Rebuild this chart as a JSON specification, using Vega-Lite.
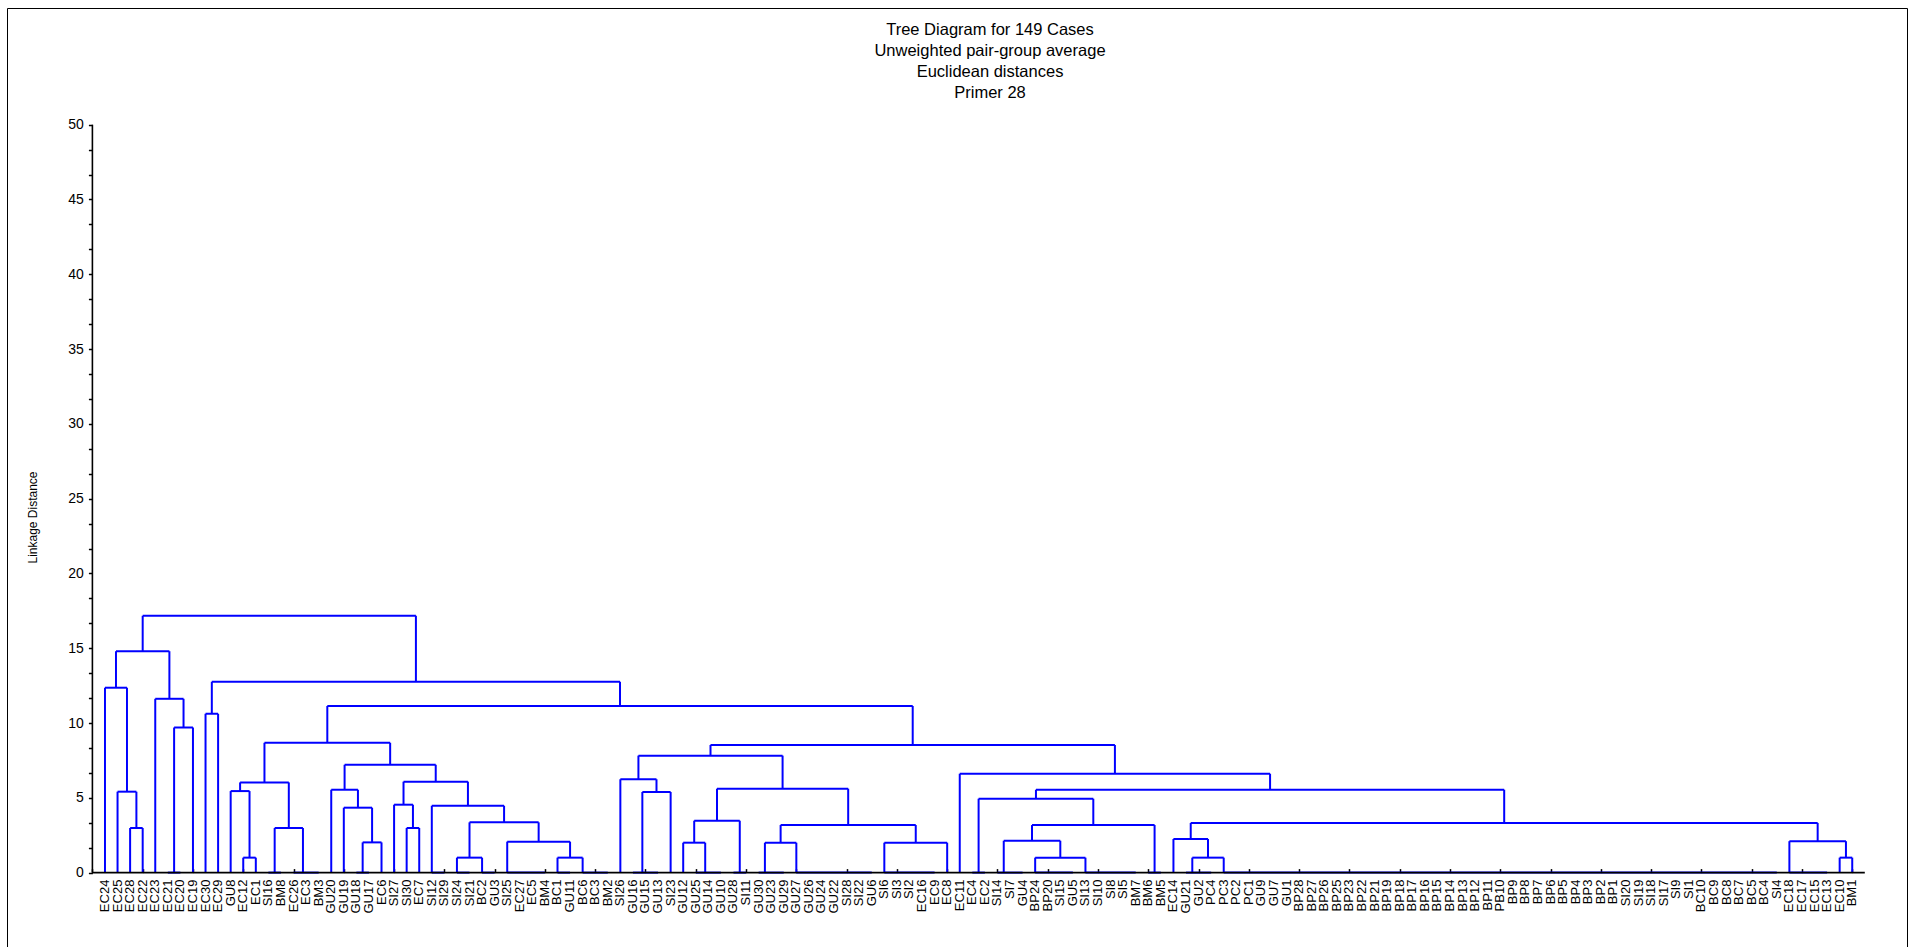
{
  "$schema": "https://vega.github.io/schema/vega-lite/v6.json",
  "autosize": {"type": "none"},
  "padding": {"left": 7, "top": 8, "right": 9, "bottom": -4},
  "width": 1900,
  "height": 943,
  "background": "white",
  "config": {
    "view": {"stroke": "black", "strokeWidth": 1},
    "font": "Liberation Sans",
    "axis": {"labelOverlap": false, "labelFlush": false, "grid": false}
  },
  "resolve": {"axis": {"y": "independent"}},
  "title": {
    "text": ["Tree Diagram for 149 Cases", "Unweighted pair-group average", "Euclidean distances", "Primer 28"],
    "font": "Liberation Sans",
    "fontSize": 16.5,
    "fontWeight": "normal",
    "color": "black",
    "lineHeight": 21,
    "anchor": "middle",
    "frame": "group",
    "offset": -93.5,
    "dx": 33
  },
  "datasets": {
    "links": [
      {"x1": 6, "x2": 7, "h": 0, "h1": 0, "h2": 0},
      {"x1": 14, "x2": 15, "h": 0, "h1": 0, "h2": 0},
      {"x1": 16, "x2": 18, "h": 0, "h1": 0, "h2": 0},
      {"x1": 21, "x2": 22, "h": 0, "h1": 0, "h2": 0},
      {"x1": 27, "x2": 28, "h": 0, "h1": 0, "h2": 0},
      {"x1": 29, "x2": 30, "h": 0, "h1": 0, "h2": 0},
      {"x1": 31, "x2": 32, "h": 0, "h1": 0, "h2": 0},
      {"x1": 33, "x2": 36, "h": 0, "h1": 0, "h2": 0},
      {"x1": 37, "x2": 38, "h": 0, "h1": 0, "h2": 0},
      {"x1": 39, "x2": 41, "h": 0, "h1": 0, "h2": 0},
      {"x1": 43, "x2": 45, "h": 0, "h1": 0, "h2": 0},
      {"x1": 48, "x2": 50, "h": 0, "h1": 0, "h2": 0},
      {"x1": 51, "x2": 52, "h": 0, "h1": 0, "h2": 0},
      {"x1": 53, "x2": 55, "h": 0, "h1": 0, "h2": 0},
      {"x1": 56, "x2": 62, "h": 0, "h1": 0, "h2": 0},
      {"x1": 63, "x2": 67, "h": 0, "h1": 0, "h2": 0},
      {"x1": 70, "x2": 71, "h": 0, "h1": 0, "h2": 0},
      {"x1": 72, "x2": 74, "h": 0, "h1": 0, "h2": 0},
      {"x1": 75, "x2": 78, "h": 0, "h1": 0, "h2": 0},
      {"x1": 79, "x2": 83, "h": 0, "h1": 0, "h2": 0},
      {"x1": 84, "x2": 85, "h": 0, "h1": 0, "h2": 0},
      {"x1": 87, "x2": 89, "h": 0, "h1": 0, "h2": 0},
      {"x1": 90, "x2": 134, "h": 0, "h1": 0, "h2": 0},
      {"x1": 135, "x2": 138, "h": 0, "h1": 0, "h2": 0},
      {"x1": 3, "x2": 4, "h": 2.98, "h1": 0, "h2": 0},
      {"x1": 2, "x2": 3.5, "h": 5.41, "h1": 0, "h2": 2.98},
      {"x1": 1, "x2": 2.75, "h": 12.36, "h1": 0, "h2": 5.41},
      {"x1": 6.5, "x2": 8, "h": 9.7, "h1": 0, "h2": 0},
      {"x1": 5, "x2": 7.25, "h": 11.62, "h1": 0, "h2": 9.7},
      {"x1": 1.875, "x2": 6.125, "h": 14.8, "h1": 12.36, "h2": 11.62},
      {"x1": 9, "x2": 10, "h": 10.62, "h1": 0, "h2": 0},
      {"x1": 12, "x2": 13, "h": 1.0, "h1": 0, "h2": 0},
      {"x1": 11, "x2": 12.5, "h": 5.45, "h1": 0, "h2": 1.0},
      {"x1": 14.5, "x2": 16.75, "h": 2.98, "h1": 0, "h2": 0},
      {"x1": 11.75, "x2": 15.625, "h": 6.03, "h1": 5.45, "h2": 2.98},
      {"x1": 21.5, "x2": 23, "h": 2.02, "h1": 0, "h2": 0},
      {"x1": 20, "x2": 22.25, "h": 4.34, "h1": 0, "h2": 2.02},
      {"x1": 19, "x2": 21.125, "h": 5.54, "h1": 0, "h2": 4.34},
      {"x1": 25, "x2": 26, "h": 2.98, "h1": 0, "h2": 0},
      {"x1": 24, "x2": 25.5, "h": 4.54, "h1": 0, "h2": 2.98},
      {"x1": 29, "x2": 31, "h": 1.0, "h1": 0, "h2": 0},
      {"x1": 37, "x2": 39, "h": 1.0, "h1": 0, "h2": 0},
      {"x1": 33, "x2": 38, "h": 2.07, "h1": 0, "h2": 1.0},
      {"x1": 30, "x2": 35.5, "h": 3.36, "h1": 1.0, "h2": 2.07},
      {"x1": 27, "x2": 32.75, "h": 4.47, "h1": 0, "h2": 3.36},
      {"x1": 24.75, "x2": 29.875, "h": 6.08, "h1": 4.54, "h2": 4.47},
      {"x1": 20.0625, "x2": 27.3125, "h": 7.21, "h1": 5.54, "h2": 6.08},
      {"x1": 13.6875, "x2": 23.6875, "h": 8.68, "h1": 6.03, "h2": 7.21},
      {"x1": 43.75, "x2": 46, "h": 5.39, "h1": 0, "h2": 0},
      {"x1": 42, "x2": 44.875, "h": 6.24, "h1": 0, "h2": 5.39},
      {"x1": 47, "x2": 48.75, "h": 2.0, "h1": 0, "h2": 0},
      {"x1": 47.875, "x2": 51.5, "h": 3.47, "h1": 2.0, "h2": 0},
      {"x1": 53.5, "x2": 56, "h": 2.0, "h1": 0, "h2": 0},
      {"x1": 63, "x2": 68, "h": 2.0, "h1": 0, "h2": 0},
      {"x1": 54.75, "x2": 65.5, "h": 3.18, "h1": 2.0, "h2": 2.0},
      {"x1": 49.6875, "x2": 60.125, "h": 5.61, "h1": 3.47, "h2": 3.18},
      {"x1": 43.4375, "x2": 54.90625, "h": 7.82, "h1": 6.24, "h2": 5.61},
      {"x1": 75, "x2": 79, "h": 1.0, "h1": 0, "h2": 0},
      {"x1": 72.5, "x2": 77, "h": 2.13, "h1": 0, "h2": 1.0},
      {"x1": 74.75, "x2": 84.5, "h": 3.18, "h1": 2.13, "h2": 0},
      {"x1": 70.5, "x2": 79.625, "h": 4.94, "h1": 0, "h2": 3.18},
      {"x1": 87.5, "x2": 90, "h": 1.0, "h1": 0, "h2": 0},
      {"x1": 86, "x2": 88.75, "h": 2.25, "h1": 0, "h2": 1.0},
      {"x1": 139, "x2": 140, "h": 1.0, "h1": 0, "h2": 0},
      {"x1": 135, "x2": 139.5, "h": 2.1, "h1": 0, "h2": 1.0},
      {"x1": 87.375, "x2": 137.25, "h": 3.32, "h1": 2.25, "h2": 2.1},
      {"x1": 75.0625, "x2": 112.3125, "h": 5.54, "h1": 4.94, "h2": 3.32},
      {"x1": 69, "x2": 93.6875, "h": 6.61, "h1": 0, "h2": 5.54},
      {"x1": 49.171875, "x2": 81.34375, "h": 8.53, "h1": 7.82, "h2": 6.61},
      {"x1": 18.6875, "x2": 65.2578, "h": 11.14, "h1": 8.68, "h2": 8.53},
      {"x1": 9.5, "x2": 41.9727, "h": 12.76, "h1": 10.62, "h2": 11.14},
      {"x1": 4.0, "x2": 25.7363, "h": 17.17, "h1": 14.8, "h2": 12.76}
    ],
    "leaves": [
      {"pos": 1, "name": "EC24"}, {"pos": 2, "name": "EC25"}, {"pos": 3, "name": "EC28"}, {"pos": 4, "name": "EC22"},
      {"pos": 5, "name": "EC23"}, {"pos": 6, "name": "EC21"}, {"pos": 7, "name": "EC20"}, {"pos": 8, "name": "EC19"},
      {"pos": 9, "name": "EC30"}, {"pos": 10, "name": "EC29"}, {"pos": 11, "name": "GU8"}, {"pos": 12, "name": "EC12"},
      {"pos": 13, "name": "EC1"}, {"pos": 14, "name": "SI16"}, {"pos": 15, "name": "BM8"}, {"pos": 16, "name": "EC26"},
      {"pos": 17, "name": "EC3"}, {"pos": 18, "name": "BM3"}, {"pos": 19, "name": "GU20"}, {"pos": 20, "name": "GU19"},
      {"pos": 21, "name": "GU18"}, {"pos": 22, "name": "GU17"}, {"pos": 23, "name": "EC6"}, {"pos": 24, "name": "SI27"},
      {"pos": 25, "name": "SI30"}, {"pos": 26, "name": "EC7"}, {"pos": 27, "name": "SI12"}, {"pos": 28, "name": "SI29"},
      {"pos": 29, "name": "SI24"}, {"pos": 30, "name": "SI21"}, {"pos": 31, "name": "BC2"}, {"pos": 32, "name": "GU3"},
      {"pos": 33, "name": "SI25"}, {"pos": 34, "name": "EC27"}, {"pos": 35, "name": "EC5"}, {"pos": 36, "name": "BM4"},
      {"pos": 37, "name": "BC1"}, {"pos": 38, "name": "GU11"}, {"pos": 39, "name": "BC6"}, {"pos": 40, "name": "BC3"},
      {"pos": 41, "name": "BM2"}, {"pos": 42, "name": "SI26"}, {"pos": 43, "name": "GU16"}, {"pos": 44, "name": "GU15"},
      {"pos": 45, "name": "GU13"}, {"pos": 46, "name": "SI23"}, {"pos": 47, "name": "GU12"}, {"pos": 48, "name": "GU25"},
      {"pos": 49, "name": "GU14"}, {"pos": 50, "name": "GU10"}, {"pos": 51, "name": "GU28"}, {"pos": 52, "name": "SI11"},
      {"pos": 53, "name": "GU30"}, {"pos": 54, "name": "GU23"}, {"pos": 55, "name": "GU29"}, {"pos": 56, "name": "GU27"},
      {"pos": 57, "name": "GU26"}, {"pos": 58, "name": "GU24"}, {"pos": 59, "name": "GU22"}, {"pos": 60, "name": "SI28"},
      {"pos": 61, "name": "SI22"}, {"pos": 62, "name": "GU6"}, {"pos": 63, "name": "SI6"}, {"pos": 64, "name": "SI3"},
      {"pos": 65, "name": "SI2"}, {"pos": 66, "name": "EC16"}, {"pos": 67, "name": "EC9"}, {"pos": 68, "name": "EC8"},
      {"pos": 69, "name": "EC11"}, {"pos": 70, "name": "EC4"}, {"pos": 71, "name": "EC2"}, {"pos": 72, "name": "SI14"},
      {"pos": 73, "name": "SI7"}, {"pos": 74, "name": "GU4"}, {"pos": 75, "name": "BP24"}, {"pos": 76, "name": "BP20"},
      {"pos": 77, "name": "SI15"}, {"pos": 78, "name": "GU5"}, {"pos": 79, "name": "SI13"}, {"pos": 80, "name": "SI10"},
      {"pos": 81, "name": "SI8"}, {"pos": 82, "name": "SI5"}, {"pos": 83, "name": "BM7"}, {"pos": 84, "name": "BM6"},
      {"pos": 85, "name": "BM5"}, {"pos": 86, "name": "EC14"}, {"pos": 87, "name": "GU21"}, {"pos": 88, "name": "GU2"},
      {"pos": 89, "name": "PC4"}, {"pos": 90, "name": "PC3"}, {"pos": 91, "name": "PC2"}, {"pos": 92, "name": "PC1"},
      {"pos": 93, "name": "GU9"}, {"pos": 94, "name": "GU7"}, {"pos": 95, "name": "GU1"}, {"pos": 96, "name": "BP28"},
      {"pos": 97, "name": "BP27"}, {"pos": 98, "name": "BP26"}, {"pos": 99, "name": "BP25"}, {"pos": 100, "name": "BP23"},
      {"pos": 101, "name": "BP22"}, {"pos": 102, "name": "BP21"}, {"pos": 103, "name": "BP19"}, {"pos": 104, "name": "BP18"},
      {"pos": 105, "name": "BP17"}, {"pos": 106, "name": "BP16"}, {"pos": 107, "name": "BP15"}, {"pos": 108, "name": "BP14"},
      {"pos": 109, "name": "BP13"}, {"pos": 110, "name": "BP12"}, {"pos": 111, "name": "BP11"}, {"pos": 112, "name": "PB10"},
      {"pos": 113, "name": "BP9"}, {"pos": 114, "name": "BP8"}, {"pos": 115, "name": "BP7"}, {"pos": 116, "name": "BP6"},
      {"pos": 117, "name": "BP5"}, {"pos": 118, "name": "BP4"}, {"pos": 119, "name": "BP3"}, {"pos": 120, "name": "BP2"},
      {"pos": 121, "name": "BP1"}, {"pos": 122, "name": "SI20"}, {"pos": 123, "name": "SI19"}, {"pos": 124, "name": "SI18"},
      {"pos": 125, "name": "SI17"}, {"pos": 126, "name": "SI9"}, {"pos": 127, "name": "SI1"}, {"pos": 128, "name": "BC10"},
      {"pos": 129, "name": "BC9"}, {"pos": 130, "name": "BC8"}, {"pos": 131, "name": "BC7"}, {"pos": 132, "name": "BC5"},
      {"pos": 133, "name": "BC4"}, {"pos": 134, "name": "SI4"}, {"pos": 135, "name": "EC18"}, {"pos": 136, "name": "EC17"},
      {"pos": 137, "name": "EC15"}, {"pos": 138, "name": "EC13"}, {"pos": 139, "name": "EC10"}, {"pos": 140, "name": "BM1"}
    ]
  },
  "layer": [
    {
      "data": {"name": "links"},
      "mark": {"type": "rule", "color": "#0000ff", "strokeWidth": 2},
      "encoding": {
        "x": {
          "field": "x1", "type": "quantitative", "title": null,
          "scale": {"domain": [-6.794, 144.357], "nice": false, "zero": false},
          "axis": {
            "orient": "bottom", "offset": -78.4, "domain": false, "grid": false, "labels": false, "title": null,
            "ticks": true, "tickSize": -4, "tickColor": "black", "tickWidth": 1.5,
            "values": [0,1,2,3,4,5,6,7,8,9,10,11,12,13,14,15,16,17,18,19,20,21,22,23,24,25,26,27,28,29,30,31,32,33,34,35,36,37,38,39,40,41,42,43,44,45,46,47,48,49,50,51,52,53,54,55,56,57,58,59,60,61,62,63,64,65,66,67,68,69,70,71,72,73,74,75,76,77,78,79,80,81,82,83,84,85,86,87,88,89,90,91,92,93,94,95,96,97,98,99,100,101,102,103,104,105,106,107,108,109,110,111,112,113,114,115,116,117,118,119,120,121,122,123,124,125,126,127,128,129,130,131,132,133,134,135,136,137,138,139,140,141]
          }
        },
        "x2": {"field": "x2"},
        "y": {
          "field": "h", "type": "quantitative", "title": "Linkage Distance",
          "scale": {"domain": [-5.241, 57.8], "nice": false, "zero": false},
          "axis": {
            "orient": "left", "offset": -85.4, "domain": false, "grid": false,
            "ticks": true, "tickSize": 4, "tickColor": "black", "tickWidth": 1.5,
            "values": [0, 5, 10, 15, 20, 25, 30, 35, 40, 45, 50],
            "format": "d",
            "labelOverlap": false, "labelFont": "Liberation Sans", "labelFontSize": 14, "labelColor": "black", "labelPadding": 5,
            "title": "Linkage Distance", "titleFont": "Liberation Sans", "titleFontSize": 12, "titleFontWeight": "normal",
            "titleColor": "black", "titleX": -60, "titleY": 509, "titleBaseline": "middle", "titleAngle": 270
          }
        }
      }
    },
    {
      "data": {"name": "links"},
      "mark": {"type": "rule", "color": "#0000ff", "strokeWidth": 2},
      "encoding": {
        "x": {"field": "x1", "type": "quantitative", "title": null, "scale": {"domain": [-6.794, 144.357], "nice": false, "zero": false}},
        "y": {
          "field": "h1", "type": "quantitative", "title": null,
          "scale": {"domain": [-5.241, 57.8], "nice": false, "zero": false},
          "axis": {
            "orient": "left", "offset": -85.4, "domain": false, "grid": false, "labels": false, "title": null,
            "ticks": true, "tickSize": 4, "tickColor": "black", "tickWidth": 1.5,
            "values": [1.6667, 3.3333, 6.6667, 8.3333, 11.6667, 13.3333, 16.6667, 18.3333, 21.6667, 23.3333, 26.6667, 28.3333, 31.6667, 33.3333, 36.6667, 38.3333, 41.6667, 43.3333, 46.6667, 48.3333]
          }
        },
        "y2": {"field": "h"}
      }
    },
    {
      "data": {"name": "links"},
      "mark": {"type": "rule", "color": "#0000ff", "strokeWidth": 2},
      "encoding": {
        "x": {"field": "x2", "type": "quantitative", "title": null, "scale": {"domain": [-6.794, 144.357], "nice": false, "zero": false}},
        "y": {"field": "h2", "type": "quantitative", "title": null, "scale": {"domain": [-5.241, 57.8], "nice": false, "zero": false}, "axis": null},
        "y2": {"field": "h"}
      }
    },
    {
      "data": {"values": [{}]},
      "mark": {"type": "rule", "color": "black", "strokeWidth": 1.6},
      "encoding": {
        "x": {"datum": 0, "type": "quantitative", "title": null, "scale": {"domain": [-6.794, 144.357], "nice": false, "zero": false}},
        "y": {"datum": 0, "type": "quantitative", "title": null, "scale": {"domain": [-5.241, 57.8], "nice": false, "zero": false}, "axis": null},
        "y2": {"datum": 50}
      }
    },
    {
      "data": {"values": [{}]},
      "mark": {"type": "rule", "color": "black", "strokeWidth": 1.6},
      "encoding": {
        "x": {"datum": 0, "type": "quantitative", "title": null, "scale": {"domain": [-6.794, 144.357], "nice": false, "zero": false}},
        "x2": {"datum": 141},
        "y": {"datum": 0, "type": "quantitative", "title": null, "scale": {"domain": [-5.241, 57.8], "nice": false, "zero": false}, "axis": null}
      }
    },
    {
      "data": {"name": "leaves"},
      "mark": {"type": "text", "angle": 270, "align": "right", "baseline": "middle", "dx": -7, "font": "Liberation Sans", "fontSize": 13, "color": "black"},
      "encoding": {
        "x": {"field": "pos", "type": "quantitative", "title": null, "scale": {"domain": [-6.794, 144.357], "nice": false, "zero": false}},
        "y": {"datum": 0, "type": "quantitative", "title": null, "scale": {"domain": [-5.241, 57.8], "nice": false, "zero": false}, "axis": null},
        "text": {"field": "name"}
      }
    }
  ]
}
